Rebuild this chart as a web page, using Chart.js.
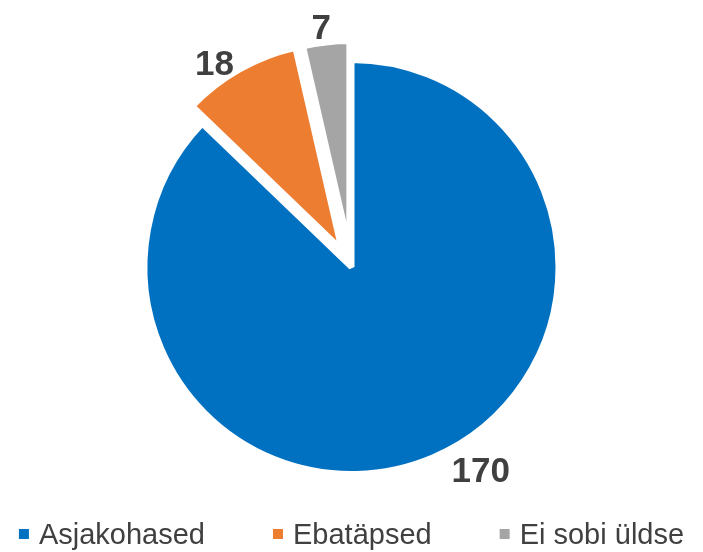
<!DOCTYPE html>
<html>
<head>
<meta charset="utf-8">
<script src="https://cdn.jsdelivr.net/npm/chart.js@4.4.0/dist/chart.umd.min.js"></script>
<style>
  html, body { margin: 0; padding: 0; background: #fff; }
  #wrap { width: 703px; height: 552px; position: relative; }
</style>
</head>
<body>
<div id="wrap"><canvas id="chart"></canvas></div>
<script>
const labels = ['Asjakohased', 'Ebatäpsed', 'Ei sobi üldse']
const values = [170, 18, 7]
const colors = ['#0070C0', '#ED7D31', '#A5A5A5']
const textColor = '#404040'
const fontFamily = '"Liberation Sans", Arial, sans-serif'

// pull the small slices out of the pie (px along the slice middle)
const explodePlugin = {
    id: 'explode',
    afterDatasetsUpdate(chart, args, opts) {
        chart.getDatasetMeta(0).data.forEach((arc, i) => {
            const d = opts.dist[i] || 0
            const mid = (arc.startAngle + arc.endAngle) / 2
            arc.x += Math.cos(mid) * d
            arc.y += Math.sin(mid) * d
        })
    }
}

// numbers outside the slices
const valueLabels = {
    id: 'valueLabels',
    afterDatasetsDraw(chart, args, opts) {
        const ctx = chart.ctx
        const ds = chart.data.datasets[0]
        ctx.save()
        ctx.font = 'bold ' + opts.size + 'px ' + fontFamily
        ctx.fillStyle = textColor
        ctx.textAlign = 'center'
        ctx.textBaseline = 'alphabetic'
        chart.getDatasetMeta(0).data.forEach((arc, i) => {
            const a = (arc.startAngle + arc.endAngle) / 2 + opts.shift[i] * Math.PI / 180
            const r = arc.outerRadius + opts.pad[i]
            const x = arc.x + Math.cos(a) * r
            const y = arc.y + Math.sin(a) * r
            ctx.fillText(ds.data[i], x, y + opts.size * 0.716 / 2)
        })
        ctx.restore()
    }
}

// legend row at the bottom, small squares like the original
const bottomLegend = {
    id: 'bottomLegend',
    afterDraw(chart, args, opts) {
        const ctx = chart.ctx
        const ds = chart.data.datasets[0]
        ctx.save()
        ctx.font = opts.size + 'px ' + fontFamily
        ctx.textBaseline = 'alphabetic'
        ctx.textAlign = 'left'
        const widths = chart.data.labels.map(t => ctx.measureText(t).width)
        let total = opts.gap * (widths.length - 1)
        widths.forEach(w => total += opts.box + opts.boxGap + w)
        let x = (chart.width - total) / 2
        chart.data.labels.forEach((t, i) => {
            ctx.fillStyle = ds.backgroundColor[i]
            ctx.fillRect(x, opts.y - opts.box / 2, opts.box, opts.box)
            ctx.fillStyle = textColor
            ctx.fillText(t, x + opts.box + opts.boxGap, opts.y + opts.size * 0.716 / 2 - 0.5)
            x += opts.box + opts.boxGap + widths[i] + opts.gap
        })
        ctx.restore()
    }
}

const chart = new Chart(document.getElementById('chart'), {
    type: 'pie',
    data: {
        labels: labels,
        datasets: [{
            data: values,
            backgroundColor: colors,
            borderColor: '#ffffff',
            borderWidth: 6,
            borderJoinStyle: 'bevel'
        }]
    },
    options: {
        responsive: true,
        maintainAspectRatio: false,
        animation: false,
        radius: 207,
        layout: { padding: { left: 0, right: 0, top: 0, bottom: 18 } },
        plugins: {
            legend: { display: false },
            tooltip: { enabled: false },
            explode: { dist: [0, 20, 19] },
            valueLabels: { size: 35, shift: [-9.5, -4.7, -0.8], pad: [33, 19, 16] },
            bottomLegend: { size: 29, y: 534, box: 10, boxGap: 10, gap: 68 }
        }
    },
    plugins: [explodePlugin, valueLabels, bottomLegend]
})
</script>
</body>
</html>
